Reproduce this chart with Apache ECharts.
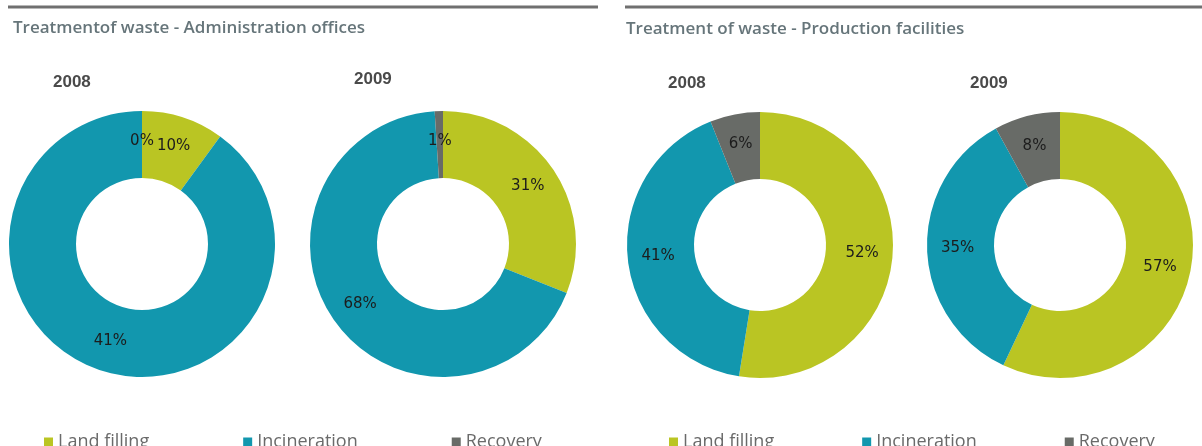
<!DOCTYPE html>
<html>
<head>
<meta charset="utf-8">
<script src="https://cdn.jsdelivr.net/npm/echarts@6/dist/echarts.min.js"></script>
<style>
  html, body { margin: 0; padding: 0; background: #fff; }
  #chart { width: 1202px; height: 446px; }
</style>
</head>
<body>
<div id="chart"></div>
<script>
const categories = ["Land filling", "Incineration", "Recovery"];
const colors = ["#bac523", "#1297ae", "#686b67"];

// slice shares as drawn, and the labels printed on them
const admin2008 = [10, 90, 0];
const admin2008Labels = ["10%", "41%", "0%"];
const admin2009 = [31, 68, 1];
const admin2009Labels = ["31%", "68%", "1%"];
const prod2008 = [52, 41, 6];
const prod2008Labels = ["52%", "41%", "6%"];
const prod2009 = [57, 35, 8];
const prod2009Labels = ["57%", "35%", "8%"];

const chart = echarts.init(document.getElementById("chart"));

function donut(values, labels, center) {
  return {
    type: "pie",
    radius: [66, 133],
    center: center,
    startAngle: 90,
    clockwise: true,
    avoidLabelOverlap: false,
    silent: true,
    label: {
      show: true,
      position: "inside",
      formatter: (p) => labels[p.dataIndex],
      fontFamily: "DejaVu Sans",
      fontSize: 15,
      color: "#1c1c1c",
    },
    labelLine: { show: false },
    itemStyle: { borderWidth: 0 },
    data: values.map((v, i) => ({
      name: categories[i],
      value: v,
      itemStyle: { color: colors[i] },
    })),
  };
}

const legendBase = {
  top: 428,
  icon: "rect",
  itemWidth: 9,
  itemHeight: 9,
  data: categories,
  textStyle: {
    fontFamily: "Open Sans",
    fontSize: 18,
    color: "#6a6a6a",
  },
  selectedMode: false,
};

const titleStyle = { fontFamily: "Open Sans", fontSize: 17, fontWeight: 600, color: "#66757a" };
const yearStyle = { fontFamily: "Liberation Sans", fontSize: 17, fontWeight: "bold", color: "#4a4a4a" };

chart.setOption({
  animation: false,
  color: colors,
  title: [
    { text: "Treatmentof waste - Administration offices", left: 8, top: 15, textStyle: titleStyle },
    { text: "Treatment of waste - Production facilities", left: 621, top: 16, textStyle: titleStyle },
    { text: "2008", left: 48, top: 69, textStyle: yearStyle },
    { text: "2009", left: 349, top: 66, textStyle: yearStyle },
    { text: "2008", left: 663, top: 70, textStyle: yearStyle },
    { text: "2009", left: 965, top: 70, textStyle: yearStyle },
  ],
  graphic: [
    { type: "line", shape: { x1: 8, y1: 7, x2: 598, y2: 7 }, style: { stroke: "#707070", lineWidth: 3 } },
    { type: "line", shape: { x1: 625, y1: 7, x2: 1202, y2: 7 }, style: { stroke: "#707070", lineWidth: 3 } },
  ],
  legend: [
    Object.assign({ left: 39, itemGap: 94 }, legendBase),
    Object.assign({ left: 664, itemGap: 88 }, legendBase),
  ],
  series: [
    donut(admin2008, admin2008Labels, [142, 244]),
    donut(admin2009, admin2009Labels, [443, 244]),
    donut(prod2008, prod2008Labels, [760, 245]),
    donut(prod2009, prod2009Labels, [1060, 245]),
  ],
});
</script>
</body>
</html>
